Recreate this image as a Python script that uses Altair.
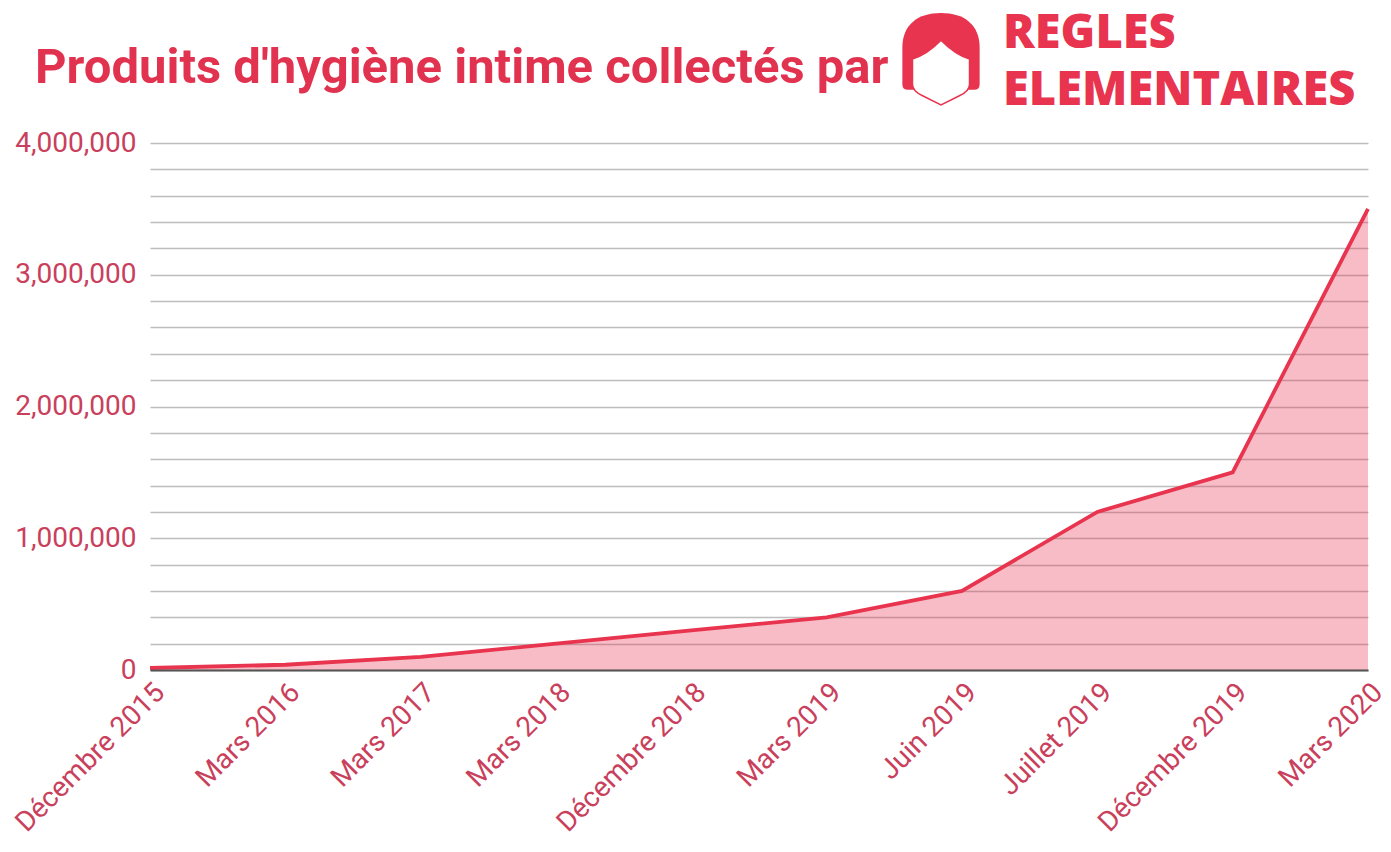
import altair as alt
import pandas as pd

# ---- data ----
periodes = ["Décembre 2015", "Mars 2016", "Mars 2017", "Mars 2018", "Décembre 2018",
            "Mars 2019", "Juin 2019", "Juillet 2019", "Décembre 2019", "Mars 2020"]
produits = [15000, 40000, 100000, 200000, 300000, 400000, 600000, 1200000, 1500000, 3500000]
y_ticks = [0, 200000, 400000, 600000, 800000, 1000000, 1200000, 1400000, 1600000, 1800000,
           2000000, 2200000, 2400000, 2600000, 2800000, 3000000, 3200000, 3400000, 3600000,
           3800000, 4000000]
titre = "Produits d'hygiène intime collectés par"
logo_l1 = "REGLES"
logo_l2 = "ELEMENTAIRES"

df = pd.DataFrame({"periode": periodes, "produits": produits})
one = pd.DataFrame({"k": [0]})

RED = "#e8344e"
TITLE_RED = "#e1334f"
LABEL = "#c9405c"

x = alt.X("periode:N", sort=periodes,
          scale=alt.Scale(type="point", padding=0),
          axis=alt.Axis(title=None, labelAngle=-45, labelFontSize=28, labelColor=LABEL,
                        labelFont="Roboto", ticks=False, domain=True, domainColor="#555555",
                        domainWidth=2, labelPadding=8, grid=False, zindex=1, labelLimit=0,
                        labelOverlap=False))
y = alt.Y("produits:Q", scale=alt.Scale(domain=[0, 4000000], nice=False),
          axis=alt.Axis(title=None, values=y_ticks,
                        labelExpr="datum.value % 1000000 == 0 ? format(datum.value, ',') : ''",
                        labelFontSize=28, labelColor=LABEL, labelFont="Roboto", ticks=False,
                        domain=False, gridColor="#bdbdbd", gridWidth=1.5, labelPadding=14))

area = alt.Chart(df).mark_area(color=RED, opacity=0.33).encode(x=x, y=y)
line = alt.Chart(df).mark_line(color=RED, strokeWidth=3.8).encode(x=x, y=y)

title = alt.Chart(one).mark_text(text=titre, font="Roboto", fontWeight="bold", fontSize=49,
                                 color=TITLE_RED, align="left", baseline="alphabetic").encode(
    x=alt.value(-115), y=alt.value(-60))

l1 = alt.Chart(one).mark_text(text=logo_l1, font="Open Sans", fontWeight=800, fontSize=47,
                              color=RED, align="left", baseline="alphabetic").encode(
    x=alt.value(853), y=alt.value(-95))
l2 = alt.Chart(one).mark_text(text=logo_l2, font="Open Sans", fontWeight=800, fontSize=47,
                              color=RED, align="left", baseline="alphabetic").encode(
    x=alt.value(853), y=alt.value(-38))

hair_path = ("M -0.84 0.55 L -0.84 -0.25 C -0.84 -0.75 -0.5 -1 0 -1 C 0.5 -1 0.84 -0.75 0.84 -0.25 "
             "L 0.84 0.55 Q 0.84 0.67 0.72 0.67 L -0.72 0.67 Q -0.84 0.67 -0.84 0.55 Z")
face_path = ("M -0.62 0 Q -0.3 -0.1 0 -0.41 Q 0.3 -0.1 0.62 0 L 0.62 0.55 Q 0.62 0.7 0.4 0.8 "
             "L 0 1 L -0.4 0.8 Q -0.62 0.7 -0.62 0.55 Z")
hair = alt.Chart(one).mark_point(shape=hair_path, size=8464, filled=True, fill=RED,
                                 strokeWidth=0, opacity=1).encode(x=alt.value(791), y=alt.value(-84))
face = alt.Chart(one).mark_point(shape=face_path, size=8464, filled=True, fill="white",
                                 stroke=RED, strokeWidth=1.5, opacity=1).encode(
    x=alt.value(791), y=alt.value(-84))

chart = alt.layer(area, line, title, l1, l2, hair, face).properties(
    width=1218, height=527,
    autosize=alt.AutoSizeParams(type="none"),
    padding={"left": 142, "top": 135, "right": 15, "bottom": 170},
    background="white",
).configure_view(stroke=None)

chart.save("out.html", embed_options={"renderer": "svg", "actions": False})
